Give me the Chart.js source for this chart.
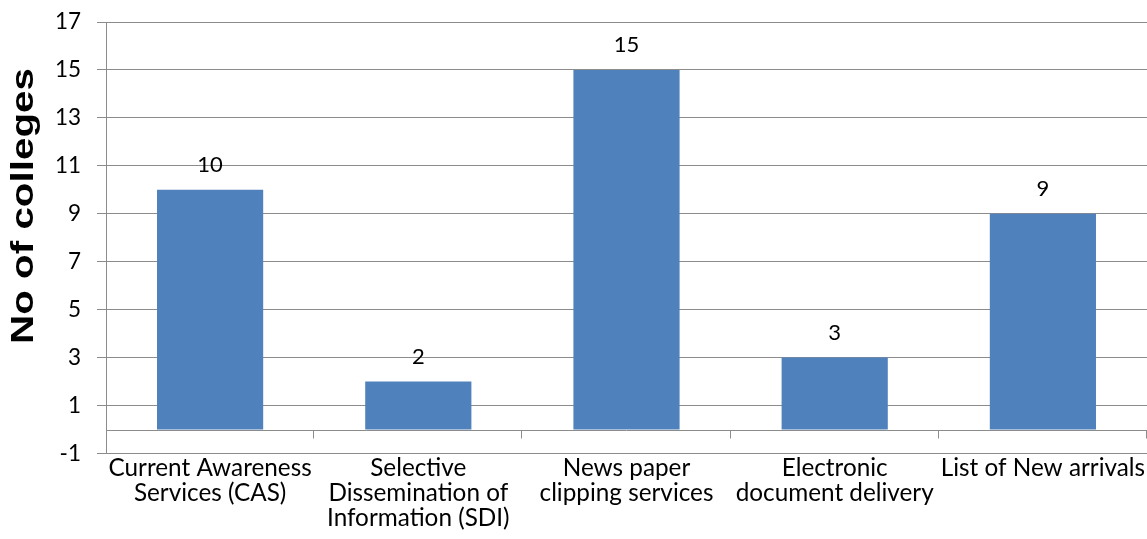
<!DOCTYPE html>
<html><head><meta charset="utf-8">
<script src="https://cdn.jsdelivr.net/npm/chart.js@4"></script>
<style>html,body{margin:0;padding:0;background:#fff}#wrap{width:1147px;height:539px;position:relative}</style>
</head><body><div id="wrap"><canvas id="c"></canvas></div>
<script>
const categories = [
  ["Current Awareness", "Services (CAS)"],
  ["Selective", "Dissemination of", "Information (SDI)"],
  ["News paper", "clipping services"],
  ["Electronic", "document delivery"],
  ["List of New arrivals"]
];
const values = [10, 2, 15, 3, 9];
const yMin = -1, yMax = 17, yStep = 2;
const yTitle = "No of colleges";

const FONT = "Lato, 'Open Sans', sans-serif";
const GRID = "#8c8c8c";

const extras = {
  id: "extras",
  beforeDatasetsDraw(chart) {
    const {ctx, chartArea, scales} = chart;
    const y0 = Math.round(scales.y.getPixelForValue(0)) + 0.5;
    ctx.save();
    ctx.strokeStyle = GRID;
    ctx.lineWidth = 1;
    ctx.beginPath();
    ctx.moveTo(chartArea.left, y0);
    ctx.lineTo(chartArea.right, y0);
    const n = categories.length;
    const w = (chartArea.right - chartArea.left) / n;
    for (let i = 1; i <= n; i++) {
      const x = Math.round(chartArea.left + i * w) - 0.5;
      ctx.moveTo(x, y0);
      ctx.lineTo(x, y0 + 8);
    }
    ctx.stroke();
    ctx.restore();
  },
  afterDatasetsDraw(chart) {
    const {ctx} = chart;
    const meta = chart.getDatasetMeta(0);
    ctx.save();
    ctx.fillStyle = "#000";
    ctx.font = "22px " + FONT;
    ctx.textAlign = "center";
    ctx.textBaseline = "middle";
    meta.data.forEach((bar, i) => {
      ctx.fillText(String(values[i]), bar.x, bar.y - 25);
    });
    ctx.restore();
  },
  afterDraw(chart) {
    const {ctx} = chart;
    ctx.save();
    ctx.font = "bold 32px 'Liberation Sans', Arial, sans-serif";
    const w = ctx.measureText(yTitle).width;
    const k = 276 / w;
    ctx.translate(24, 206);
    ctx.rotate(-Math.PI / 2);
    ctx.scale(k, 1);
    ctx.fillStyle = "#000";
    ctx.textAlign = "center";
    ctx.textBaseline = "middle";
    ctx.fillText(yTitle, 0, 0);
    ctx.restore();
  }
};

new Chart(document.getElementById("c"), {
  type: "bar",
  data: {
    labels: categories,
    datasets: [{
      data: values,
      backgroundColor: "#4F81BD",
      borderWidth: 0,
      categoryPercentage: 1,
      barPercentage: 0.51
    }]
  },
  options: {
    responsive: true,
    maintainAspectRatio: false,
    animation: false,
    layout: {padding: {left: 0, right: 0, top: 22, bottom: 0}},
    plugins: {legend: {display: false}, tooltip: {enabled: false}},
    scales: {
      x: {
        grid: {display: false, drawTicks: false, tickLength: 0},
        border: {display: false},
        ticks: {
          color: "#000",
          font: {family: FONT, size: 24.3, lineHeight: 1.03},
          padding: 2,
          maxRotation: 0,
          autoSkip: false
        },
        afterFit(s) { s.height = 85.5; s.paddingLeft = 0; s.paddingRight = 0; }
      },
      y: {
        min: yMin,
        max: yMax,
        ticks: {
          stepSize: yStep,
          color: "#000",
          font: {family: FONT, size: 22.5},
          padding: 16
        },
        grid: {color: GRID, lineWidth: 1, tickLength: 9},
        border: {display: true, color: GRID, width: 1},
        afterFit(s) { s.width = 106; s.paddingTop = 0; s.paddingBottom = 0; }
      }
    }
  },
  plugins: [extras]
});
</script>
</body></html>
